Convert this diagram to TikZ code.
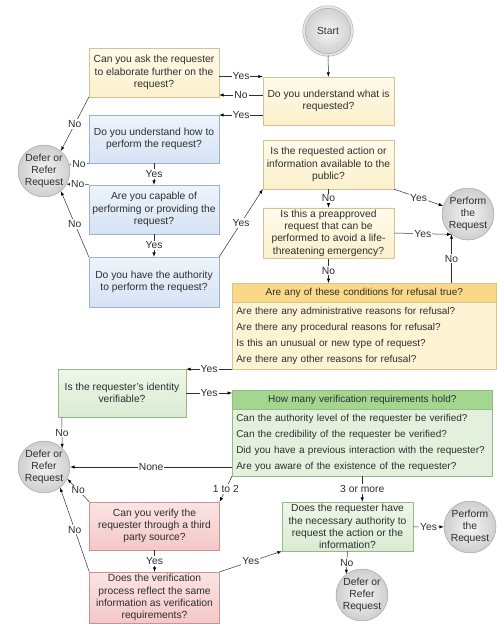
\documentclass[tikz,border=0pt]{standalone}
\usepackage{fontspec}
\setmainfont{Liberation Sans}
\usepackage{tikz}
\usetikzlibrary{arrows}
\usetikzlibrary{positioning}
\usetikzlibrary{calc}
\usetikzlibrary{shapes.multipart}
\usetikzlibrary{shadows}
\definecolor{ylwtop}{HTML}{FFFBEA}
\definecolor{ylwbot}{HTML}{FCF0CC}
\definecolor{ylwdraw}{HTML}{D3C494}
\definecolor{ylwhead}{HTML}{F9D987}
\definecolor{ylwbody}{HTML}{FEF3D2}
\definecolor{blutop}{HTML}{EEF4FB}
\definecolor{blubot}{HTML}{D5E3F4}
\definecolor{bludraw}{HTML}{9EB2CC}
\definecolor{grntop}{HTML}{EEF7EA}
\definecolor{grnbot}{HTML}{DAEBD2}
\definecolor{grnfill}{HTML}{E3F1DC}
\definecolor{grndraw}{HTML}{97B98A}
\definecolor{grnhead}{HTML}{A3D78F}
\definecolor{pnktop}{HTML}{FBE4E4}
\definecolor{pnkbot}{HTML}{F4C7C7}
\definecolor{pnkdraw}{HTML}{C79393}
\definecolor{inkgray}{HTML}{2E2E2E}
\newcommand{\defernode}[2]{\node(#1)[endball] at (#2){Defer or\\Refer\\Request}}
\newcommand{\performnode}[2]{\node(#1)[endball] at (#2){Perform\\the\\Request}}

\begin{document}
\begin{tikzpicture}[
        x=1pt, y=-1pt,
        every node/.style={font=\fontsize{10.3}{12.3}\selectfont, text=inkgray},
        question/.style={rectangle, align=center, minimum width=130pt, minimum height=48pt,
                         inner sep=2pt, line width=0.5pt,
                         drop shadow={opacity=0.15, shadow xshift=0.8pt, shadow yshift=-0.8pt}},
        ylwq/.style={question, draw=ylwdraw, top color=ylwtop, bottom color=ylwbot},
        bluq/.style={question, draw=bludraw, top color=blutop, bottom color=blubot},
        grnq/.style={question, draw=grndraw, top color=grntop, bottom color=grnbot},
        pnkq/.style={question, draw=pnkdraw, top color=pnktop, bottom color=pnkbot},
        list/.style={rectangle split, rectangle split parts=2, align=left, anchor=north west,
                     inner xsep=4pt, inner ysep=4.5pt, line width=0.5pt,
                     font=\fontsize{10}{16}\selectfont},
        endball/.style={circle, draw=gray!70, inner color=gray!8, outer color=gray!38,
                        minimum size=52pt, inner sep=0pt, align=center, line width=0.5pt},
        conn/.style={->, >=latex, draw=inkgray, line width=0.5pt},
        lbl/.style={fill=white, inner sep=1pt}
      ]
      \useasboundingbox (0,0) rectangle (497,624);

      \node(start)[endball, double=gray!20, double distance=2pt, minimum size=48pt] at (328,31) {Start};
      \node(understand)[ylwq, minimum width=131pt] at (328.5,101) {Do you understand what is\\requested?};
      \node(elaborate)[ylwq, minimum height=49pt] at (154,72.5) {Can you ask the requester\\to elaborate further on the\\request?};
      \node(how)[bluq] at (154,139) {Do you understand how to\\perform the request?};
      \node(capable)[bluq, minimum height=49pt] at (154,209.5) {Are you capable of\\performing or providing the\\request?};
      \node(authority)[bluq, minimum height=50pt] at (154,282) {Do you have the authority\\to perform the request?};
      \node(public)[ylwq, minimum width=131pt, minimum height=49pt] at (328.5,164.5) {Is the requested action or\\information available to the\\public?};
      \node(preapproved)[ylwq, minimum width=131pt, minimum height=50pt] at (328.5,233) {Is this a preapproved\\request that can be\\performed to avoid a life-\\threatening emergency?};
      \performnode{perform1}{468,214};
      \defernode{defer1}{44,171};

      \node(conditions)[list, text width=256pt, draw=ylwdraw,
                        rectangle split part fill={ylwhead,ylwbody}] at (232,283)
        {\centering Are any of these conditions for refusal true?\par
         \nodepart{two}\raggedright
         Are there any administrative reasons for refusal?\\
         Are there any procedural reasons for refusal?\\
         Is this an unusual or new type of request?\\
         Are there any other reasons for refusal?\par};

      \node(verifiable)[grnq, minimum width=128pt] at (122,393) {Is the requester's identity\\verifiable?};
      \node(howmany)[list, text width=252pt, draw=grndraw,
                     rectangle split part fill={grnhead,grnfill}] at (232,390)
        {\centering How many verification requirements hold?\par
         \nodepart{two}\raggedright
         Can the authority level of the requester be verified?\\
         Can the credibility of the requester be verified?\\
         Did you have a previous interaction with the requester?\\
         Are you aware of the existence of the requester?\par};
      \defernode{defer2}{44,467};

      \node(thirdparty)[pnkq] at (154.5,526) {Can you verify the\\requester through a third\\party source?};
      \node(reflect)[pnkq, minimum height=51pt] at (154.5,597.5) {Does the verification\\process reflect the same\\information as verification\\requirements?};
      \node(necessary)[grnq, minimum width=131pt, minimum height=49pt] at (347.5,526.5) {Does the requester have\\the necessary authority to\\request the action or the\\information?};
      \performnode{perform2}{470,527};
      \defernode{defer3}{362,595};

      \draw[conn] (start) -- (understand);
      \draw[conn] ([yshift=-4pt]elaborate.east) -- node[lbl]{Yes} ([yshift=-4pt]elaborate.east -| understand.west);
      \draw[conn] ([yshift=6pt]understand.west) -- node[lbl]{No} ([yshift=6pt]understand.west -| elaborate.east);
      \draw[conn] ([yshift=-14pt]understand.west) -- node[lbl]{Yes} ([yshift=-14pt]understand.west -| how.east);
      \draw[conn] (elaborate.south west) -- node[lbl]{No} (defer1.50);
      \draw[conn] (how.south west) -- node[lbl]{No} (defer1.15);
      \draw[conn] (capable.north west) -- node[lbl]{No} (defer1.-30);
      \draw[conn] (authority.north west) -- node[lbl]{No} (defer1.-50);
      \draw[conn] (how) -- node[lbl]{Yes} (capable);
      \draw[conn] (capable) -- node[lbl]{Yes} (authority);
      \draw[conn] (authority.north east) -- node[lbl]{Yes} (public.south west);
      \draw[conn] (public) -- node[lbl]{No} (preapproved);
      \draw[conn] (public.south east) -- node[lbl]{Yes} (perform1.162);
      \draw[conn] (preapproved.east) -- node[lbl]{Yes} (perform1.231);
      \draw[conn] (perform1.231 |- conditions.north) -- node[lbl]{No} (perform1.231);
      \draw[conn] (preapproved) -- node[lbl]{No} (preapproved |- conditions.north);
      \draw[conn] (conditions.south west) -- node[lbl]{Yes} (conditions.south west -| verifiable.east);
      \draw[conn] (verifiable.east) -- node[lbl]{Yes} (verifiable.east -| howmany.west);
      \draw[conn] ([xshift=4pt]verifiable.south west) -- node[lbl]{No} (defer2.46);
      \draw[conn] (defer2.east -| howmany.west) -- node[lbl]{None} (defer2.east);
      \draw[conn] (howmany.south west) -- node[lbl]{1 to 2} (thirdparty.north east);
      \draw[conn] (howmany.south) -- node[lbl]{3 or more} (howmany.south |- necessary.north);
      \draw[conn] (thirdparty.north west) -- node[lbl]{No} (defer2.-27);
      \draw[conn] (reflect.north west) -- node[lbl]{No} (defer2.-52);
      \draw[conn] (thirdparty) -- node[lbl]{Yes} (reflect);
      \draw[conn] (reflect.north east) -- node[lbl]{Yes} (necessary.south west);
      \draw[conn] (necessary) -- node[lbl]{Yes} (perform2);
      \draw[conn] (necessary.south) -- node[lbl]{No} (defer3.127);
    \end{tikzpicture}
\end{document}
